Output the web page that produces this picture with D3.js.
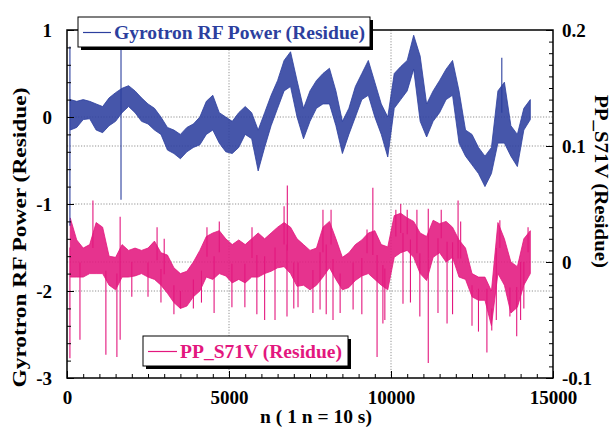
<!DOCTYPE html>
<html><head><meta charset="utf-8">
<script src="https://cdn.jsdelivr.net/npm/d3@7"></script>
<style>
html,body{margin:0;padding:0;background:#fff;}
svg{display:block;}
text{font-family:"Liberation Serif","Times New Roman",serif;font-weight:bold;}
</style></head>
<body>
<svg id="chart" width="616" height="428"></svg>
<script>
// ---------- DATA ----------
const binWidth = 200;               // bins of n
const leftTicks = [-3, -2, -1, 0, 1];
const rightTicks = [-0.1, 0, 0.1, 0.2];
const xTicks = [0, 5000, 10000, 15000];
const leftTickLabels = ["-3", "-2", "-1", "0", "1"];
const rightTickLabels = ["-0.1", "0", "0.1", "0.2"];

// Gyrotron RF Power residue (left axis): low / high envelope per 200-n bin
const gyroLo = [-0.15,-0.12,-0.03,-0.02,-0.15,-0.18,-0.10,-0.05,0.05,0.12,
  0.05,-0.05,-0.08,-0.15,-0.20,-0.38,-0.42,-0.48,-0.40,-0.35,
  -0.32,-0.20,-0.15,-0.30,-0.40,-0.42,-0.35,-0.20,-0.25,-0.62,
  -0.35,-0.10,0.10,0.30,0.35,0.00,-0.25,-0.05,0.10,0.15,
  0.15,-0.10,-0.42,-0.20,0.00,0.20,0.25,0.00,-0.20,-0.46,
  0.10,0.20,0.30,0.55,-0.05,-0.23,-0.05,0.05,0.20,0.25,
  -0.30,-0.45,-0.55,-0.65,-0.80,-0.65,-0.30,-0.30,-0.45,-0.57,
  -0.15,-0.03];
const gyroHi = [0.20,0.18,0.20,0.18,0.15,0.12,0.22,0.28,0.33,0.36,
  0.30,0.22,0.15,0.10,0.00,-0.12,-0.15,-0.20,-0.12,-0.08,
  0.00,0.18,0.25,0.05,0.00,-0.05,0.05,0.12,0.05,-0.15,
  0.05,0.25,0.42,0.65,0.75,0.42,0.10,0.30,0.42,0.50,
  0.56,0.30,-0.05,0.10,0.35,0.50,0.65,0.40,0.15,0.00,
  0.50,0.58,0.65,0.94,0.70,0.15,0.30,0.42,0.55,0.65,
  0.30,-0.15,-0.20,-0.35,-0.45,-0.35,0.30,0.40,-0.10,-0.20,
  0.10,0.20];
const gyroSpikeN = [90, 90, 1667, 1667, 13420];
const gyroSpikeV = [0.81, -1.25, 0.80, -0.95, 0.68];

// PP_S71V residue (right axis): low / high envelope per 200-n bin
const ppLo = [-0.013,-0.013,-0.013,-0.010,-0.010,-0.010,-0.020,-0.024,-0.013,-0.013,
  -0.012,-0.010,-0.013,-0.015,-0.020,-0.027,-0.035,-0.040,-0.038,-0.030,
  -0.025,-0.013,-0.015,-0.010,-0.012,-0.018,-0.015,-0.018,-0.013,-0.013,
  -0.010,-0.008,-0.005,-0.004,-0.010,-0.021,-0.020,-0.024,-0.020,-0.013,
  -0.005,-0.015,-0.024,-0.022,-0.016,-0.012,-0.010,-0.015,-0.020,-0.024,
  0.004,0.008,0.010,0.004,-0.010,-0.016,0.004,0.008,0.000,0.004,
  -0.013,-0.015,-0.030,-0.033,-0.033,-0.055,-0.010,-0.020,-0.044,-0.039,
  -0.020,-0.010];
const ppHi = [0.038,0.019,0.012,0.015,0.034,0.030,0.005,0.004,0.015,0.010,
  0.012,0.010,0.012,0.018,0.008,0.006,-0.005,-0.010,-0.008,0.000,
  0.010,0.022,0.025,0.027,0.020,0.015,0.019,0.015,0.020,0.025,
  0.020,0.025,0.030,0.034,0.030,0.020,0.015,0.010,0.012,0.030,
  0.035,0.020,0.004,0.008,0.015,0.019,0.025,0.027,0.015,0.013,
  0.040,0.042,0.038,0.035,0.025,0.022,0.036,0.033,0.035,0.030,
  0.019,0.012,-0.010,-0.013,-0.013,-0.025,0.034,0.020,0.000,-0.004,
  0.020,0.027];
const ppSpikeN = [800,1640,2780,3000,4320,4700,5710,6700,6800,7900,8150,9260,9440,10150,10300,10500,10800,11150,11550,12070,12150,13360,14230,
  90,400,1200,1540,1640,2000,2500,2900,3300,3500,3900,4150,4540,5090,5490,5860,6100,6420,6790,7000,7130,7590,7810,8000,8210,8430,8830,9100,
  9570,9750,9810,10370,10600,10890,11150,11450,11730,11900,12500,12700,12960,13110,13250,13670,13880,14000,14100];
const ppSpikeV = [0.053,0.039,0.030,0.020,0.030,0.035,0.030,0.048,0.066,0.045,0.045,0.028,0.064,0.045,0.050,0.045,0.045,0.046,0.045,0.053,0.035,0.036,0.030,
  -0.083,-0.067,-0.080,-0.082,-0.067,-0.030,-0.030,-0.035,-0.045,-0.040,-0.040,-0.035,-0.044,-0.039,-0.039,-0.045,-0.050,-0.050,-0.047,-0.040,-0.039,-0.044,-0.041,-0.045,-0.050,-0.044,-0.041,-0.045,
  -0.082,-0.053,-0.050,-0.036,-0.035,-0.047,-0.087,-0.044,-0.053,-0.045,-0.055,-0.060,-0.078,-0.059,-0.050,-0.047,-0.064,-0.050,-0.040];

const legend1 = "Gyrotron RF Power (Residue)";
const legend2 = "PP_S71V (Residue)";
const yTitleLeft = "Gyrotron RF Power (Residue)";
const yTitleRight = "PP_S71V (Residue)";
const xTitle = "n ( 1 n = 10 s)";

// ---------- LAYOUT ----------
const BLUE = "#2c3f9e", PINK = "#e3177e";
const L = 67, R = 553, T = 30, B = 378;
const svg = d3.select("#chart");
const x = d3.scaleLinear().domain([0, 15000]).range([L, R]);
const yL = d3.scaleLinear().domain([-3, 1]).range([B, T]);
const yR = d3.scaleLinear().domain([-0.1, 0.2]).range([B, T]);

// gridlines
const grid = svg.append("g").attr("stroke", "#777").attr("stroke-width", 0.8).attr("stroke-dasharray", "1.2,1.6");
[5000, 10000].forEach(v => grid.append("line").attr("x1", x(v)).attr("x2", x(v)).attr("y1", T).attr("y2", B));
[0, -1, -2].forEach(v => grid.append("line").attr("x1", L).attr("x2", R).attr("y1", yL(v)).attr("y2", yL(v)));
[0.1, 0].forEach(v => grid.append("line").attr("x1", L).attr("x2", R).attr("y1", yR(v)).attr("y2", yR(v)));

function drawSeries(lo, hi, spN, spV, y, color) {
  const bins = lo.map((l, i) => ({ n: i * binWidth, lo: l, hi: hi[i] }));
  const area = d3.area().x(d => x(d.n + binWidth / 2)).y0(d => y(d.lo)).y1(d => y(d.hi));
  svg.append("path").datum(bins).attr("d", area).attr("fill", color).attr("fill-opacity", 0.88)
    .attr("stroke", color).attr("stroke-width", 0.8).attr("stroke-linejoin", "round");
  const sp = svg.append("g").attr("stroke", color).attr("stroke-width", 1.1);
  spN.forEach((n, i) => {
    const b = bins[Math.min(bins.length - 1, Math.floor(n / binWidth))];
    const mid = (b.lo + b.hi) / 2;
    sp.append("line").attr("x1", x(n)).attr("x2", x(n)).attr("y1", y(mid)).attr("y2", y(spV[i]));
  });
}
drawSeries(ppLo, ppHi, ppSpikeN, ppSpikeV, yR, PINK);
drawSeries(gyroLo, gyroHi, gyroSpikeN, gyroSpikeV, yL, BLUE);

// frame
svg.append("rect").attr("x", L).attr("y", T).attr("width", R - L).attr("height", B - T)
  .attr("fill", "none").attr("stroke", "#000").attr("stroke-width", 1.5);

// axes
function styleAxis(g) { g.select(".domain").remove(); g.selectAll("line").attr("stroke", "#000").attr("stroke-width", 1);
  g.selectAll("text").attr("font-size", 19).attr("fill", "#000").style("font-family", '"Liberation Serif","Times New Roman",serif').style("font-weight", "bold"); }

svg.append("g").attr("transform", `translate(${L},0)`)
  .call(d3.axisLeft(yL).tickValues(leftTicks).tickSizeInner(-7).tickSizeOuter(0).tickPadding(15)
    .tickFormat((d, i) => leftTickLabels[i])).call(styleAxis);
svg.append("g").attr("transform", `translate(${L},0)`)
  .call(d3.axisLeft(yL).tickValues(d3.range(-3, 1.001, 0.2)).tickSizeInner(-4).tickSizeOuter(0).tickFormat("")).call(styleAxis);

svg.append("g").attr("transform", `translate(${R},0)`)
  .call(d3.axisRight(yR).tickValues(rightTicks).tickSizeInner(-7).tickSizeOuter(0).tickPadding(9)
    .tickFormat((d, i) => rightTickLabels[i])).call(styleAxis);
svg.append("g").attr("transform", `translate(${R},0)`)
  .call(d3.axisRight(yR).tickValues(d3.range(-0.1, 0.2001, 0.01)).tickSizeInner(-4).tickSizeOuter(0).tickFormat("")).call(styleAxis);

svg.append("g").attr("transform", `translate(0,${B})`)
  .call(d3.axisBottom(x).tickValues(xTicks).tickSizeInner(-7).tickSizeOuter(0).tickPadding(13)
    .tickFormat(d => String(d))).call(styleAxis);
svg.append("g").attr("transform", `translate(0,${B})`)
  .call(d3.axisBottom(x).tickValues(d3.range(0, 15001, 500)).tickSizeInner(-4).tickSizeOuter(0).tickFormat("")).call(styleAxis);

// legends
function legend(bx, by, bw, bh, label, color, tx, tl) {
  const g = svg.append("g");
  g.append("rect").attr("x", bx + 3).attr("y", by + 3).attr("width", bw).attr("height", bh).attr("fill", "#000");
  g.append("rect").attr("x", bx).attr("y", by).attr("width", bw).attr("height", bh).attr("fill", "#fff").attr("stroke", "#000").attr("stroke-width", 1);
  g.append("line").attr("x1", bx + 5).attr("x2", tx - 3).attr("y1", by + bh / 2 + 0.5).attr("y2", by + bh / 2 + 0.5).attr("stroke", color).attr("stroke-width", 1.2);
  g.append("text").attr("x", tx).attr("y", by + bh / 2 + 6.5).attr("fill", color).attr("font-size", 19.5)
    .attr("textLength", tl).attr("lengthAdjust", "spacingAndGlyphs").text(label);
}
legend(78, 17, 292, 30, legend1, BLUE, 114, 251);
legend(143, 336, 205, 30, legend2, PINK, 180, 162);

// axis titles
svg.append("text").attr("transform", "translate(26,237.5) rotate(-90)").attr("text-anchor", "middle")
  .attr("font-size", 18.5).attr("fill", "#000").attr("textLength", 300).attr("lengthAdjust", "spacingAndGlyphs").text(yTitleLeft);
svg.append("text").attr("transform", "translate(595,181.5) rotate(90)").attr("text-anchor", "middle")
  .attr("font-size", 18.5).attr("fill", "#000").attr("textLength", 173).attr("lengthAdjust", "spacingAndGlyphs").text(yTitleRight);
svg.append("text").attr("x", 316).attr("y", 423).attr("text-anchor", "middle")
  .attr("font-size", 19.5).attr("fill", "#000").text(xTitle);
</script>
</body></html>
